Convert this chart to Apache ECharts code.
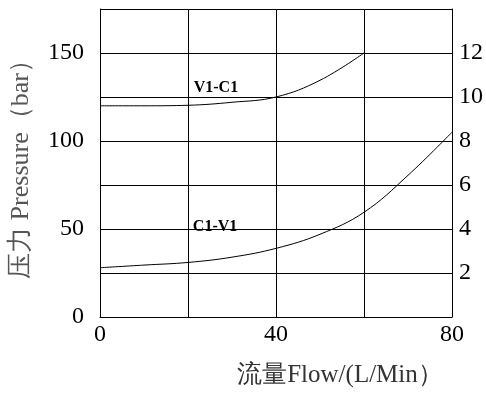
<!DOCTYPE html>
<html><head><meta charset="utf-8">
<script src="https://cdn.jsdelivr.net/npm/echarts@6/dist/echarts.min.js"></script>
<style>html,body{margin:0;padding:0;background:#fff}#c{width:486px;height:393px}</style>
</head><body><div id="c"></div>
<script>
var flowV1C1 = [0, 10, 20, 30, 40, 50, 60];
var presV1C1 = [120, 120, 120.3, 122, 125, 134.5, 150];
var flowC1V1 = [0, 10, 20, 30, 40, 50, 60, 70, 80];
var presC1V1 = [28, 29.5, 31, 34, 39, 47, 59.5, 80.5, 105];
var labelV1C1 = {text: 'V1-C1', x: 21.3, y: 130};
var labelC1V1 = {text: 'C1-V1', x: 21.1, y: 51};
var leftTicks = [0, 50, 100, 150];
var rightTicks = [2, 4, 6, 8, 10, 12];
var xTicks = [0, 40, 80];

var F = 'Liberation Serif';
function pairs(xs, ys){ return xs.map(function(x,i){ return [x, ys[i]]; }); }
var chart = echarts.init(document.getElementById('c'));
chart.setOption({
  animation: false,
  grid: {left: 98, right: 32, top: 9, bottom: 74},
  xAxis: {
    type: 'value', min: 0, max: 80, interval: 20,
    name: '流量Flow/(L/Min）', nameLocation: 'middle', nameGap: 46,
    nameTextStyle: {fontFamily: F, fontSize: 25, color: '#333', padding: [0, 0, 0, 128]},
    axisLine: {lineStyle: {color: '#000', width: 1}},
    axisTick: {show: false},
    axisLabel: {fontFamily: F, fontSize: 24, color: '#000', margin: 6,
      formatter: function(v){ return xTicks.indexOf(v) >= 0 ? String(v) : ''; }},
    splitLine: {show: true, lineStyle: {color: '#000', width: 1}}
  },
  yAxis: [{
    type: 'value', min: 0, max: 175, interval: 25,
    name: '压力 Pressure（bar）', nameLocation: 'middle', nameGap: 66,
    nameTextStyle: {fontFamily: F, fontSize: 26, color: '#555'},
    axisLine: {show: true, lineStyle: {color: '#000', width: 1}},
    axisTick: {show: false},
    axisLabel: {fontFamily: F, fontSize: 24, color: '#000', margin: 16,
      formatter: function(v){ return leftTicks.indexOf(v) >= 0 ? String(v) : ''; }},
    splitLine: {show: true, lineStyle: {color: '#000', width: 1}}
  }, {
    type: 'value', min: 0, max: 14, interval: 2, position: 'right',
    axisLine: {show: true, lineStyle: {color: '#000', width: 1}},
    axisTick: {show: false},
    axisLabel: {fontFamily: F, fontSize: 24, color: '#000', margin: 7,
      formatter: function(v){ return rightTicks.indexOf(v) >= 0 ? String(v) : ''; }},
    splitLine: {show: false}
  }],
  series: [{
    type: 'line', data: pairs(flowV1C1, presV1C1), smooth: 0.4, symbol: 'none',
    lineStyle: {color: '#000', width: 1},
    markPoint: {symbolSize: 0, data: [{coord: [labelV1C1.x, labelV1C1.y], value: labelV1C1.text,
      label: {show: true, position: 'right', distance: 0, formatter: labelV1C1.text,
        fontFamily: F, fontSize: 16, fontWeight: 'bold', color: '#000'}}]}
  }, {
    type: 'line', data: pairs(flowC1V1, presC1V1), smooth: 0.4, symbol: 'none',
    lineStyle: {color: '#000', width: 1},
    markPoint: {symbolSize: 0, data: [{coord: [labelC1V1.x, labelC1V1.y], value: labelC1V1.text,
      label: {show: true, position: 'right', distance: 0, formatter: labelC1V1.text,
        fontFamily: F, fontSize: 16, fontWeight: 'bold', color: '#000'}}]}
  }]
});
</script></body></html>
